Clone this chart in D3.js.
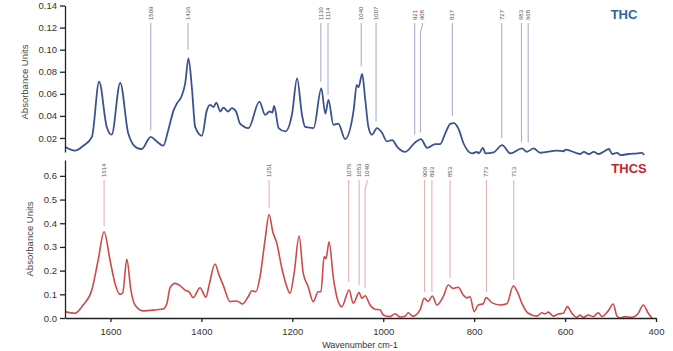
<!DOCTYPE html>
<html lang="en">
<head>
<meta charset="UTF-8">
<title>THC / THCS absorbance spectra</title>
<script src="https://d3js.org/d3.v7.min.js"></script>
<style>
    body { margin: 0; background: #fff; }
    svg { font-family: "Liberation Sans", Arial, sans-serif; }
    .axis path, .axis line { stroke: #222; stroke-width: 1.3; }
    .axis text { font-size: 9.5px; fill: #333; }
    .ylabel { font-size: 9.5px; fill: #444; }
    .peak-label { font-size: 6px; fill: #555; }
</style>
</head>
<body>
<svg width="673" height="351"></svg>
<script>
// THC spectrum: [wavenumber, absorbance]
const thcSpectrum = [
    [1700, 0.012], [1678, 0.0085], [1659, 0.013], [1640, 0.021], [1624, 0.071], [1607, 0.030],
    [1596, 0.023], [1577, 0.070], [1559, 0.024], [1540, 0.011], [1529, 0.010], [1509, 0.021],
    [1496, 0.017], [1481, 0.013], [1470, 0.027], [1458, 0.045], [1451, 0.051], [1440, 0.058],
    [1432, 0.070], [1425, 0.092], [1417, 0.064], [1410, 0.030], [1395, 0.022], [1384, 0.045],
    [1377, 0.050], [1369, 0.048], [1363, 0.052], [1354, 0.044], [1347, 0.0475], [1337, 0.044],
    [1328, 0.047], [1319, 0.044], [1310, 0.033], [1291, 0.029], [1267, 0.053], [1254, 0.041],
    [1244, 0.044], [1238, 0.043], [1234, 0.049], [1224, 0.029], [1209, 0.026], [1194, 0.042],
    [1183, 0.074], [1172, 0.041], [1165, 0.030], [1146, 0.029], [1129, 0.065], [1120, 0.042],
    [1113, 0.0545], [1102, 0.032], [1091, 0.033], [1076, 0.019], [1057, 0.045], [1050, 0.068],
    [1046, 0.066], [1038, 0.078], [1031, 0.0545], [1024, 0.030], [1016, 0.023], [1005, 0.029],
    [994, 0.025], [983, 0.017], [971, 0.018], [960, 0.012], [942, 0.0075], [920, 0.016],
    [907, 0.019], [893, 0.011], [875, 0.0145], [864, 0.0145], [853, 0.024], [841, 0.033],
    [833, 0.0335], [823, 0.028], [812, 0.015], [793, 0.006], [782, 0.0075], [778, 0.006],
    [769, 0.011], [763, 0.006], [745, 0.007], [726, 0.0135], [708, 0.006], [682, 0.0105],
    [671, 0.0075], [656, 0.0105], [641, 0.0066], [604, 0.0085], [589, 0.008], [585, 0.0095],
    [552, 0.0055], [544, 0.0075], [533, 0.0055], [522, 0.0075], [511, 0.0055], [500, 0.0075],
    [488, 0.010], [481, 0.0055], [470, 0.0065], [462, 0.0045], [444, 0.0055], [425, 0.006],
    [414, 0.0065], [410, 0.0045]
];

// THCS spectrum: [wavenumber, absorbance]
const thcsSpectrum = [
    [1700, 0.027], [1678, 0.020], [1660, 0.055], [1641, 0.118], [1627, 0.245], [1614, 0.364],
    [1601, 0.245], [1590, 0.146], [1579, 0.100], [1573, 0.107], [1564, 0.248], [1555, 0.118],
    [1546, 0.055], [1528, 0.030], [1498, 0.035], [1484, 0.038], [1476, 0.060], [1469, 0.127],
    [1458, 0.146], [1447, 0.137], [1436, 0.118], [1427, 0.110], [1418, 0.086], [1403, 0.128],
    [1390, 0.088], [1383, 0.139], [1370, 0.228], [1361, 0.181], [1352, 0.139], [1337, 0.069],
    [1322, 0.072], [1310, 0.059], [1297, 0.090], [1289, 0.115], [1280, 0.111], [1271, 0.174],
    [1260, 0.329], [1251, 0.437], [1243, 0.364], [1234, 0.315], [1223, 0.210], [1212, 0.132],
    [1205, 0.104], [1196, 0.189], [1185, 0.346], [1176, 0.189], [1165, 0.132], [1154, 0.069],
    [1143, 0.111], [1137, 0.111], [1130, 0.259], [1126, 0.250], [1119, 0.322], [1110, 0.174],
    [1099, 0.069], [1091, 0.048], [1075, 0.118], [1066, 0.062], [1053, 0.107], [1047, 0.083],
    [1040, 0.094], [1029, 0.055], [1018, 0.037], [1007, 0.035], [1000, 0.013], [985, 0.006],
    [974, 0.018], [963, 0.004], [952, 0.007], [945, 0.022], [935, 0.007], [919, 0.034],
    [910, 0.083], [901, 0.070], [892, 0.093], [882, 0.055], [868, 0.090], [857, 0.139],
    [846, 0.125], [835, 0.130], [824, 0.097], [816, 0.085], [809, 0.090], [800, 0.027],
    [791, 0.055], [780, 0.060], [774, 0.086], [761, 0.065], [743, 0.055], [728, 0.060],
    [714, 0.135], [705, 0.111], [695, 0.062], [681, 0.020], [662, 0.008], [651, 0.022],
    [644, 0.017], [637, 0.025], [626, 0.008], [615, 0.017], [604, 0.020], [595, 0.048],
    [585, 0.020], [574, 0.003], [567, 0.012], [560, 0.003], [549, 0.012], [538, 0.006],
    [527, 0.022], [519, 0.006], [505, 0.030], [494, 0.059], [486, 0.008], [479, 0.000],
    [468, 0.006], [453, 0.003], [439, 0.020], [428, 0.055], [417, 0.020], [409, 0.000]
];

// peak annotations: wavenumber, absorbance where the marker line stops
const thcPeaks = [1509, 1426, 1130, 1114, 1040, 1007, 921, 908, 837, 727, 683, 668];
const thcPeakEnds = [0.027, 0.100, 0.071, 0.059, 0.085, 0.035, 0.023, 0.025, 0.040, 0.020, 0.016, 0.016];
const thcsPeaks = [1614, 1251, 1076, 1053, 1040, 909, 893, 853, 773, 713];
const thcsPeakEnds = [0.388, 0.464, 0.152, 0.139, 0.127, 0.110, 0.110, 0.169, 0.110, 0.160];

const thcTicks = [0.02, 0.04, 0.06, 0.08, 0.10, 0.12, 0.14];
const thcsTicks = [0.0, 0.1, 0.2, 0.3, 0.4, 0.5, 0.6];
const waveTicks = [1600, 1400, 1200, 1000, 800, 600, 400];

const svg = d3.select("svg");

// scales (top panel image is a bit narrower than the bottom one)
const xTop = d3.scaleLinear().domain([1700, 400]).range([65, 648.5]);
const xBot = d3.scaleLinear().domain([1700, 400]).range([65, 656]);
const yTop = d3.scaleLinear().domain([0.0073, 0.14]).range([152, 5.5]);
const yBot = d3.scaleLinear().domain([0, 0.667]).range([318, 160]);

function drawPanel(data, x, y, color, width) {
    const line = d3.line()
        .x(d => x(d[0]))
        .y(d => y(d[1]))
        .curve(d3.curveMonotoneX);
    svg.append("path")
        .datum(data)
        .attr("fill", "none")
        .attr("stroke", color)
        .attr("stroke-width", width)
        .attr("stroke-linejoin", "round")
        .attr("d", line);
}

function drawPeaks(peaks, ends, x, y, lineTop, labelY, color, offsets) {
    peaks.forEach((p, i) => {
        const px = x(p);
        const lx = px + (offsets[p] || 0);
        const path = lx === px
            ? `M${px},${lineTop}V${y(ends[i])}`
            : `M${lx},${lineTop}L${lx},${lineTop + 2}L${px},${lineTop + 9}V${y(ends[i])}`;
        svg.append("path")
            .attr("d", path)
            .attr("fill", "none")
            .attr("stroke", color)
            .attr("stroke-width", 1.1);
        svg.append("text")
            .attr("class", "peak-label")
            .attr("transform", `translate(${lx + 2},${labelY}) rotate(-90)`)
            .text(p);
    });
}

// top panel: THC
drawPeaks(thcPeaks, thcPeakEnds, xTop, yTop, 23, 20, "#aab0cc", {908: 2});
drawPanel(thcSpectrum, xTop, yTop, "#3c5190", 1.8);

svg.append("g")
    .attr("class", "axis")
    .attr("transform", "translate(65,0)")
    .call(d3.axisLeft(yTop).tickValues(thcTicks).tickFormat(d3.format(".2f")).tickSize(5).tickSizeOuter(0));

svg.append("text")
    .attr("class", "ylabel")
    .attr("transform", "translate(28,82) rotate(-90)")
    .attr("text-anchor", "middle")
    .text("Absorbance Units");

svg.append("text")
    .attr("x", 624).attr("y", 19)
    .attr("text-anchor", "middle")
    .attr("font-size", "13px").attr("font-weight", "bold")
    .attr("fill", "#2e67a0")
    .text("THC");

// bottom panel: THCS
drawPeaks(thcsPeaks, thcsPeakEnds, xBot, yBot, 180, 177, "#eab0b0", {1040: 2});
drawPanel(thcsSpectrum, xBot, yBot, "#cc4a4c", 1.6);

svg.append("g")
    .attr("class", "axis")
    .attr("transform", "translate(65,0)")
    .call(d3.axisLeft(yBot).tickValues(thcsTicks).tickFormat(d3.format(".1f")).tickSize(5).tickSizeOuter(0));

svg.append("g")
    .attr("class", "axis")
    .attr("transform", "translate(0,318)")
    .call(d3.axisBottom(xBot).tickValues(waveTicks).tickFormat(d3.format("d")).tickSize(4).tickSizeOuter(0).tickPadding(6))
    .select(".domain").attr("stroke-width", 2);

svg.append("text")
    .attr("class", "ylabel")
    .attr("transform", "translate(33,239) rotate(-90)")
    .attr("text-anchor", "middle")
    .text("Absorbance Units");

svg.append("text")
    .attr("x", 360).attr("y", 348)
    .attr("text-anchor", "middle")
    .attr("font-size", "9px")
    .attr("fill", "#333")
    .text("Wavenumber cm-1");

svg.append("text")
    .attr("x", 629).attr("y", 173)
    .attr("text-anchor", "middle")
    .attr("font-size", "13px").attr("font-weight", "bold")
    .attr("fill", "#c0282c")
    .text("THCS");
</script>
</body>
</html>
